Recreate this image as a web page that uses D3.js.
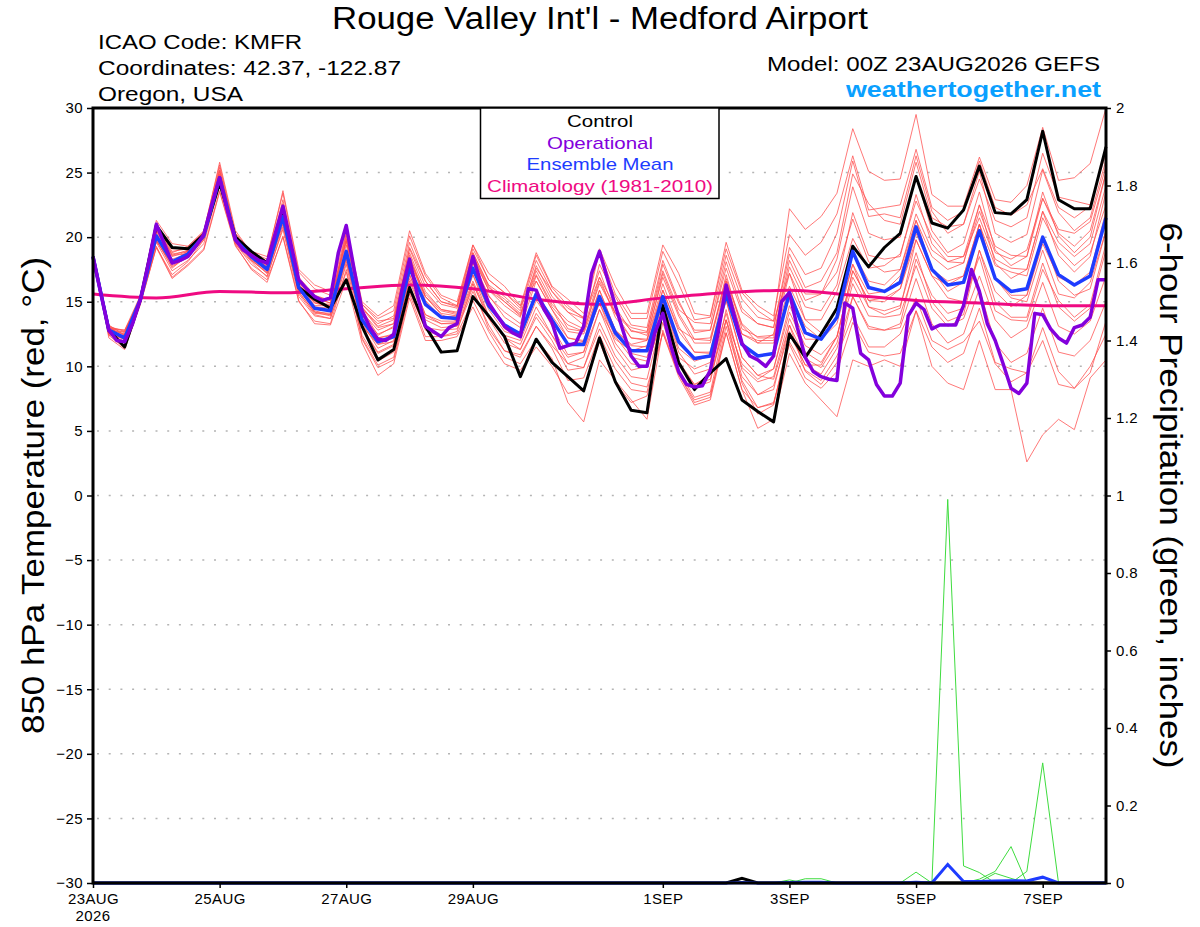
<!DOCTYPE html>
<html>
<head>
<meta charset="utf-8">
<script src="https://cdn.jsdelivr.net/npm/d3@7"></script>
<style>
  body { margin: 0; background: #fff; }
  text { font-family: "Liberation Sans", Arial, Helvetica, sans-serif; }
</style>
</head>
<body>
<div id="chart"></div>
<script>
// ---- data ----
// ensemble mean 850 hPa temperature, 6-hourly from 00Z 23AUG2026
const meanTemp = [18.5,12.8,12.2,15.2, 20.1,18.1,18.7,20.1, 24.6,19.8,18.5,17.5, 21.6,16.1,14.5,14.3,
  18.9,13.6,11.9,12.3, 17.6,14.8,13.8,13.7, 17.6,14.7,13.2,12.5, 15.6,13.6,11.7,11.7,
  15.4,12.6,11.2,11.2, 15.4,11.9,10.6,10.8, 15.6,11.7,10.8,11.0, 15.7,12.6,12.1,13.8,
  18.9,16.1,15.8,16.5, 20.8,17.5,16.3,16.5, 20.5,16.8,15.8,16.0, 20.0,17.1,16.3,17.0, 21.5];

const controlTemp = [18.5,12.8,11.5,15.2, 20.9,19.2,19.1,20.2, 24.2,20.0,18.9,18.0, 22.2,16.1,15.2,14.5,
  16.7,13.1,10.5,11.3, 16.1,13.1,11.1,11.2, 15.4,13.9,12.3,9.2, 12.1,10.3,9.2,8.1,
  12.2,8.8,6.6,6.4, 14.7,10.3,8.2,9.5, 10.6,7.4,6.5,5.7, 12.5,10.7,12.5,14.5,
  19.3,17.7,19.2,20.3, 24.7,21.1,20.7,22.1, 25.5,21.9,21.8,22.9, 28.2,22.9,22.2,22.2, 27.0];

// operational run, 3-hourly
const operTemp = [18.5,15.6,12.8,12.0,11.9,13.3,15.2,18.0,21.0,
  19.5,18.0,18.2,18.5,19.3,20.2,22.5,24.6,
  22.0,19.8,19.0,18.6,18.2,18.0,20.2,22.4,
  19.5,16.7,16.0,15.4,15.1,15.3,18.8,20.9,
  17.5,14.3,13.0,12.1,12.0,12.5,15.8,18.3,
  15.5,13.1,12.7,12.3,13.0,13.3,16.0,18.5,
  16.5,14.9,14.0,13.1,12.6,12.3,16.0,15.9,
  14.4,13.4,11.4,11.6,11.8,13.1,17.2,18.9,
  16.8,14.7,12.7,10.8,10.0,10.0,12.6,14.1,
  11.6,9.6,8.6,8.4,8.5,9.7,12.6,16.3,
  14.0,11.8,10.8,10.5,10.0,10.8,15.0,15.7,
  13.0,10.7,9.6,9.2,9.0,8.9,14.9,14.5,
  11.0,10.5,8.6,7.7,7.7,8.7,13.9,14.9,
  14.4,12.9,13.2,13.2,13.2,14.7,17.5,15.8,
  13.3,12.0,10.2,8.3,7.9,8.7,14.1,14.0,
  12.9,12.2,11.8,13.0,13.2,13.8,16.7,16.7];

// 1981-2010 climatology, daily at 00Z
const climoTemp = [15.6,15.3,15.8,15.7,16.0,16.3,16.0,15.2,14.8,15.3,15.7,15.9,15.5,15.1,14.9,14.7,14.7];

// ensemble members, 6-hourly
const memberTemps = [
  [18.5,13.1,12.7,15.4,21.3,19.5,19.3,20.5,25.6,20.3,18.9,18.5,23.4,17.3,16.0,15.5,20.4,14.8,13.7,14.3,20.1,17.0,15.3,14.7,19.1,16.7,15.7,14.5,18.6,16.1,14.7,13.7,18.9,15.6,13.7,13.7,18.9,16.4,13.6,13.8,19.1,15.7,14.3,13.5,22.2,20.6,21.6,23.4,28.4,25.1,24.4,24.5,29.5,23.3,22.4,22.4,26.2,22.9,22.7,24.0,28.5,24.4,24.6,25.7,30.0],
  [18.5,12.4,11.4,14.9,19.3,16.9,17.9,19.1,23.6,19.4,17.5,16.5,20.1,15.1,13.3,13.2,16.7,11.8,9.3,10.2,15.3,12.0,12.0,12.3,14.6,12.1,10.2,9.7,11.5,10.0,7.9,8.2,11.9,8.7,7.2,7.7,12.6,9.2,7.0,7.4,12.6,8.2,5.2,5.9,11.0,8.7,7.4,6.1,10.5,10.0,10.5,10.0,14.3,10.0,8.7,8.2,12.0,8.2,8.2,2.6,4.7,5.9,5.1,9.1,10.5],
  [18.5,13.0,12.8,15.5,20.7,19.1,19.1,20.4,25.8,20.5,18.8,18.3,23.6,17.5,16.3,15.8,20.8,15.0,13.9,14.7,20.5,17.2,15.5,15.0,19.4,17.2,16.2,14.7,18.8,16.2,15.2,14.1,19.1,16.2,14.1,14.1,19.4,17.2,14.1,13.9,19.6,15.9,14.7,13.9,20.2,18.6,19.6,21.8,26.3,22.1,22.3,22.5,26.8,22.3,21.3,22.0,25.9,22.3,21.7,22.5,25.3,22.3,21.5,22.4,26.8],
  [18.5,12.2,11.3,14.8,19.2,16.8,17.8,19.0,23.5,19.3,17.6,16.7,20.0,15.0,13.5,13.3,17.5,12.1,9.9,10.5,15.6,12.3,12.3,12.5,15.1,12.7,10.7,10.2,12.1,10.6,7.2,5.7,10.5,8.9,7.4,5.9,12.8,9.4,7.2,7.6,13.1,8.9,6.8,7.1,11.9,9.7,8.9,10.8,13.9,11.5,11.5,12.5,15.3,12.0,11.3,11.9,13.5,10.2,8.8,9.5,12.0,8.6,8.3,10.0,12.5],
  [18.5,12.9,12.5,15.3,20.5,18.7,18.9,20.2,25.1,20.0,18.6,17.9,22.5,16.7,15.3,14.9,19.7,14.2,12.8,13.3,18.8,15.8,14.4,14.2,18.4,15.9,15.0,13.9,17.8,15.4,14.2,13.2,17.9,15.4,13.2,13.0,18.2,15.1,12.6,12.8,18.1,14.5,13.3,13.0,19.2,17.1,17.6,20.3,25.9,21.6,21.8,21.5,26.3,22.0,20.3,21.0,25.1,20.3,19.6,20.2,25.2,21.9,20.5,21.5,26.0],
  [18.5,12.6,11.8,15.0,19.6,17.4,18.2,19.5,24.0,19.5,17.9,17.0,20.6,15.4,13.9,13.7,17.9,12.4,10.4,11.1,16.2,13.0,12.8,12.9,15.8,13.2,11.2,10.7,13.1,11.4,8.9,9.1,12.4,9.8,8.2,8.0,13.4,9.6,7.6,8.0,13.6,8.7,6.3,7.0,12.5,10.1,9.4,11.4,15.4,12.9,12.8,13.0,16.8,13.3,11.8,12.5,16.0,11.8,10.3,11.0,14.5,11.1,10.8,12.0,15.0],
  [18.5,13.2,12.4,15.3,20.9,19.1,19.2,20.3,25.4,20.2,18.7,18.1,22.9,16.9,15.5,15.1,20.1,14.5,13.3,13.9,19.6,16.6,15.0,14.6,18.8,16.3,15.4,14.3,18.2,15.8,14.5,13.8,17.4,14.1,12.8,12.4,16.9,13.9,11.8,11.8,17.1,12.9,12.3,12.4,17.7,15.1,15.6,18.3,23.9,20.3,19.8,20.0,24.8,20.5,18.8,19.5,23.5,19.0,17.8,18.5,23.5,20.1,18.8,20.0,25.0],
  [18.5,12.5,12.1,15.1,19.8,17.7,18.5,19.8,24.2,19.6,18.2,17.2,21.0,15.7,14.2,13.9,18.4,13.0,11.1,11.7,16.8,13.8,13.3,13.3,16.4,13.7,11.8,11.3,13.8,12.0,9.7,9.9,13.4,10.8,9.2,9.0,13.9,10.3,8.4,8.8,14.4,9.7,7.8,8.2,13.2,10.6,9.9,11.8,16.4,13.9,13.8,14.0,17.8,14.5,13.1,13.7,17.0,13.6,12.2,13.0,16.5,13.1,12.5,13.5,17.0],
  [18.5,13.0,12.6,15.4,20.4,18.6,19.0,20.3,24.9,19.9,18.7,17.7,22.2,16.5,15.0,14.7,19.4,13.9,12.5,13.0,18.4,15.4,14.1,13.9,18.0,15.4,14.2,13.3,17.0,14.6,13.2,12.7,16.6,14.1,12.2,12.1,17.2,14.1,12.1,12.2,16.8,13.3,12.2,12.2,17.2,14.6,14.3,16.3,21.9,18.6,18.3,18.5,23.3,19.5,18.1,18.5,22.5,18.0,16.8,17.5,22.0,18.6,17.3,18.5,23.5],
  [18.5,12.7,12.3,15.2,19.9,18.1,18.8,20.0,24.4,19.8,18.7,17.8,21.3,16.3,14.9,14.6,18.3,13.2,11.7,11.9,16.6,13.6,13.0,13.1,16.1,12.9,11.2,10.9,13.1,11.6,10.2,10.7,14.4,12.1,11.2,11.6,15.9,12.9,12.1,12.0,16.6,13.2,11.8,11.8,15.7,13.1,12.1,13.3,17.9,15.6,15.8,17.0,21.3,17.5,15.8,16.5,21.0,17.8,17.3,17.0,21.5,19.1,17.8,18.8,22.5],
  [18.5,13.1,12.0,15.3,20.6,18.3,18.7,20.2,24.8,20.1,18.4,17.7,22.4,16.4,14.7,14.7,19.9,14.4,12.4,13.1,18.4,15.1,13.8,13.9,18.1,14.9,12.9,12.3,15.4,13.1,10.9,11.1,14.4,11.4,9.7,10.0,13.9,10.1,8.6,9.3,13.6,10.2,9.0,9.8,14.7,12.1,12.1,13.8,18.9,16.6,16.3,17.5,21.8,19.0,18.1,18.0,22.5,19.3,18.6,18.5,23.0,20.3,19.3,20.5,25.0],
  [18.5,12.5,12.5,15.1,19.7,17.9,18.9,20.1,24.3,19.7,18.6,17.5,21.1,16.2,14.3,14.0,18.6,13.6,12.2,12.4,18.0,15.4,14.3,14.0,18.6,15.9,14.7,13.8,17.4,15.1,12.9,12.7,16.4,14.1,13.0,12.7,17.4,14.4,13.4,13.3,18.6,15.2,13.8,13.5,17.2,13.6,12.6,13.8,17.9,14.6,14.3,14.7,18.8,15.0,13.5,14.0,19.0,15.8,14.6,15.5,20.0,16.6,15.5,16.0,20.5],
  [18.5,13.0,11.8,15.4,20.2,17.8,18.4,19.9,24.5,20.0,18.3,17.2,21.4,15.8,14.1,14.0,18.1,13.0,11.0,11.6,17.1,14.0,13.5,13.5,16.6,13.9,12.2,11.3,14.1,12.4,10.2,9.9,12.9,10.4,8.7,8.4,12.6,9.4,7.4,7.8,12.6,8.2,6.8,7.2,11.7,9.1,8.3,9.6,13.4,11.1,10.8,11.0,14.3,11.5,10.3,11.0,14.5,10.3,9.8,9.5,13.0,9.6,8.3,9.5,13.5],
  [18.5,12.6,12.7,15.2,20.7,18.9,19.1,20.4,25.1,20.1,18.9,18.1,22.6,16.7,15.4,15.1,19.8,14.6,13.1,13.6,19.1,16.2,14.8,14.5,18.6,16.1,15.2,14.1,17.1,14.8,13.5,12.9,16.9,14.6,12.7,12.6,17.9,14.9,12.8,12.8,17.6,14.2,13.3,13.0,18.7,16.1,16.6,18.8,24.9,22.6,21.3,21.0,25.8,21.5,20.8,21.0,24.5,21.3,20.8,21.5,26.5,23.1,22.8,22.5,26.5],
  [18.5,13.2,12.0,15.3,20.3,18.5,18.9,20.1,24.6,19.6,18.8,17.6,21.8,16.0,14.2,14.1,18.5,13.4,11.4,12.0,17.6,15.0,13.7,13.7,18.1,15.5,13.8,13.0,16.6,14.4,12.2,11.9,14.9,12.3,10.7,10.4,14.4,10.7,9.8,10.3,15.1,10.7,9.3,9.8,14.2,11.6,10.9,12.3,16.9,14.6,14.0,14.5,19.8,17.0,15.3,15.0,18.5,14.3,13.6,13.5,17.5,15.1,13.8,14.8,19.5],
  [18.5,12.4,12.2,15.4,19.8,17.6,18.6,20.3,24.7,19.7,18.3,17.4,21.7,15.9,14.6,14.5,18.9,13.5,12.2,12.5,17.1,14.0,13.3,13.4,17.1,14.4,12.7,12.3,15.6,13.9,12.2,12.0,15.9,12.8,11.0,10.7,14.9,11.1,9.4,9.8,14.1,9.9,8.8,9.2,13.7,11.1,10.3,12.3,17.4,15.1,15.0,16.0,20.3,17.5,16.6,17.0,21.0,16.8,15.5,15.5,19.5,16.9,16.3,17.3,22.0],
  [18.5,12.9,12.8,15.0,19.7,17.9,19.0,20.2,24.8,19.9,18.8,17.9,22.0,16.6,15.1,14.6,18.6,13.1,11.7,12.2,18.2,15.6,14.4,14.1,18.8,16.2,15.0,14.0,17.6,15.8,14.2,13.7,16.9,13.8,12.2,12.0,15.9,12.7,11.1,11.1,16.6,12.5,12.0,12.0,16.2,13.6,13.6,15.8,19.9,17.6,17.8,18.7,22.8,20.0,18.5,18.5,21.5,18.3,17.6,17.5,22.0,19.6,18.5,19.5,24.0],
  [18.5,12.7,11.6,15.5,20.9,18.6,18.7,19.9,24.4,19.8,18.2,17.3,22.1,16.3,14.9,14.8,20.3,14.8,13.5,13.7,18.6,15.4,14.0,13.5,17.1,13.9,12.2,11.7,14.6,12.4,10.7,11.1,15.4,12.8,11.7,12.0,16.4,13.1,11.1,11.0,15.1,10.7,9.3,9.0,13.2,9.6,8.6,10.3,15.4,13.1,12.8,13.3,18.3,15.5,14.1,14.5,19.0,15.0,13.8,13.8,18.0,14.6,13.5,14.5,19.0],
  [18.5,13.0,12.4,14.9,19.2,17.1,18.1,19.8,24.1,19.5,18.1,16.9,20.8,15.6,14.0,13.7,17.3,12.2,10.1,10.7,15.8,12.8,12.3,12.7,16.4,13.7,12.4,12.0,15.1,13.4,11.7,11.9,14.9,11.8,10.2,10.0,13.9,10.4,8.6,9.0,13.6,9.2,7.8,8.5,12.7,10.1,10.1,12.3,17.4,15.1,15.3,16.0,19.8,17.0,16.3,17.0,21.0,16.8,15.3,15.0,19.0,15.6,15.3,16.5,20.5],
  [18.5,12.6,12.1,15.4,20.6,18.8,19.3,20.4,25.2,20.2,18.6,17.7,22.2,16.8,15.3,14.9,19.7,14.5,13.0,13.3,19.2,16.6,15.0,14.7,19.4,16.7,15.7,14.7,16.6,14.4,12.7,12.5,15.9,12.8,11.6,11.5,15.1,11.4,10.4,10.8,16.1,12.5,11.8,12.5,18.2,15.6,15.6,17.3,21.4,18.1,17.3,17.5,21.3,18.5,17.5,18.0,22.0,18.8,18.3,19.0,23.0,20.6,20.3,21.2,25.5]
];

// 6-hour precipitation (inches)
const meanPrecip = [0,0,0,0,0,0,0,0, 0,0,0,0,0,0,0,0, 0,0,0,0,0,0,0,0, 0,0,0,0,0,0,0,0, 0,0,0,0,0,0,0,0,
  0,0.001,0,0,0.001,0.002,0.002,0, 0,0,0,0,0.002,0,0.048,0.004, 0.004,0.005,0.006,0.005,0.015,0,0,0, 0];
const controlPrecip = [0,0,0,0,0,0,0,0, 0,0,0,0,0,0,0,0, 0,0,0,0,0,0,0,0, 0,0,0,0,0,0,0,0, 0,0,0,0,0,0,0,0,
  0,0.012,0,0,0,0,0,0, 0,0,0,0,0,0,0,0, 0,0,0,0,0,0,0,0, 0];
// members with measurable precipitation (the rest stay at zero)
const memberPrecip = [
  [0,0,0,0,0,0,0,0, 0,0,0,0,0,0,0,0, 0,0,0,0,0,0,0,0, 0,0,0,0,0,0,0,0, 0,0,0,0,0,0,0,0, 0,0,0,0,0,0,0,0, 0,0,0,0,0,0,0.99,0.044, 0.027,0,0,0,0,0,0,0, 0],
  [0,0,0,0,0,0,0,0, 0,0,0,0,0,0,0,0, 0,0,0,0,0,0,0,0, 0,0,0,0,0,0,0,0, 0,0,0,0,0,0,0,0, 0,0,0,0,0,0,0,0, 0,0,0,0,0.028,0,0,0, 0,0,0,0,0,0,0,0, 0],
  [0,0,0,0,0,0,0,0, 0,0,0,0,0,0,0,0, 0,0,0,0,0,0,0,0, 0,0,0,0,0,0,0,0, 0,0,0,0,0,0,0,0, 0,0,0,0,0,0,0,0, 0,0,0,0,0,0,0,0, 0.01,0.03,0.094,0,0,0,0,0, 0],
  [0,0,0,0,0,0,0,0, 0,0,0,0,0,0,0,0, 0,0,0,0,0,0,0,0, 0,0,0,0,0,0,0,0, 0,0,0,0,0,0,0,0, 0,0,0,0,0,0,0,0, 0,0,0,0,0,0,0,0, 0,0,0,0.03,0.31,0,0,0, 0],
  [0,0,0,0,0,0,0,0, 0,0,0,0,0,0,0,0, 0,0,0,0,0,0,0,0, 0,0,0,0,0,0,0,0, 0,0,0,0,0,0,0,0, 0,0,0,0,0.008,0,0,0, 0,0,0,0,0,0,0,0, 0,0,0,0,0,0,0,0, 0],
  [0,0,0,0,0,0,0,0, 0,0,0,0,0,0,0,0, 0,0,0,0,0,0,0,0, 0,0,0,0,0,0,0,0, 0,0,0,0,0,0,0,0, 0,0,0,0,0,0.011,0.011,0, 0,0,0,0,0,0,0,0, 0,0,0,0,0,0,0,0, 0],
  [0,0,0,0,0,0,0,0, 0,0,0,0,0,0,0,0, 0,0,0,0,0,0,0,0, 0,0,0,0,0,0,0,0, 0,0,0,0,0,0,0,0, 0,0,0,0,0,0,0,0, 0,0,0,0,0,0,0,0, 0.003,0.025,0.012,0,0,0,0,0, 0]
];

// axis ticks
const tempTicks = [30,25,20,15,10,5,0,-5,-10,-15,-20,-25,-30];
const precipTicks = [2,1.8,1.6,1.4,1.2,1,0.8,0.6,0.4,0.2,0];
const precipTickLabels = ["2","1.8","1.6","1.4","1.2","1","0.8","0.6","0.4","0.2","0"];
const dateTicks = ["2026-08-23","2026-08-25","2026-08-27","2026-08-29","2026-09-01","2026-09-03","2026-09-05","2026-09-07"];
const dateTickLabels = ["23AUG","25AUG","27AUG","29AUG","1SEP","3SEP","5SEP","7SEP"];

// ---- layout ----
const W = 1200, H = 927;
const plot = { left: 93, right: 1106, top: 108, bottom: 883 };

const svg = d3.select("#chart").append("svg")
  .attr("width", W)
  .attr("height", H);

const start = Date.UTC(2026, 7, 23, 0);
const hour = 3600 * 1000;
const times6 = meanTemp.map((d, i) => new Date(start + i * 6 * hour));
const times3 = operTemp.map((d, i) => new Date(start + i * 3 * hour));
const timesDaily = climoTemp.map((d, i) => new Date(start + i * 24 * hour));

const x = d3.scaleUtc()
  .domain([times6[0], times6[times6.length - 1]])
  .range([plot.left, plot.right]);

const y = d3.scaleLinear().domain([-30, 30]).range([plot.bottom, plot.top]);
const yP = d3.scaleLinear().domain([0, 2]).range([plot.bottom, plot.top]);

// gridlines
svg.append("g")
  .selectAll("line")
  .data(tempTicks.filter(d => d > -30 && d < 30))
  .enter()
  .append("line")
  .attr("x1", plot.left + 4)
  .attr("x2", plot.right)
  .attr("y1", d => y(d))
  .attr("y2", d => y(d))
  .attr("stroke", "#b4b4b4")
  .attr("stroke-width", 1.5)
  .attr("stroke-dasharray", "2,9.7");

const line6 = d3.line().x((d, i) => x(times6[i])).y(d => y(d));
const line3 = d3.line().x((d, i) => x(times3[i])).y(d => y(d));
const lineP = d3.line().x((d, i) => x(times6[i])).y(d => yP(d));

// ensemble members
svg.append("g")
  .selectAll("path")
  .data(memberTemps)
  .enter()
  .append("path")
  .attr("d", line6)
  .attr("fill", "none")
  .attr("stroke", "#ff4d4d")
  .attr("stroke-opacity", 0.85)
  .attr("stroke-width", 0.9);

// member precipitation
svg.append("g")
  .selectAll("path")
  .data(memberPrecip)
  .enter()
  .append("path")
  .attr("d", lineP)
  .attr("fill", "none")
  .attr("stroke", "#3fdc3f")
  .attr("stroke-width", 1);

// climatology
svg.append("path")
  .datum(climoTemp)
  .attr("d", d3.line().curve(d3.curveMonotoneX).x((d, i) => x(timesDaily[i])).y(d => y(d)))
  .attr("fill", "none")
  .attr("stroke", "#ef0a82")
  .attr("stroke-width", 3);

// control, mean, operational
svg.append("path").datum(controlTemp).attr("d", line6)
  .attr("fill", "none").attr("stroke", "#000").attr("stroke-width", 3)
  .attr("stroke-linejoin", "round");
svg.append("path").datum(meanTemp).attr("d", line6)
  .attr("fill", "none").attr("stroke", "#1e3cff").attr("stroke-width", 3.5)
  .attr("stroke-linejoin", "round");
svg.append("path").datum(operTemp).attr("d", line3)
  .attr("fill", "none").attr("stroke", "#8300dc").attr("stroke-width", 3.5)
  .attr("stroke-linejoin", "round");

// control / mean precip
svg.append("path").datum(controlPrecip).attr("d", lineP)
  .attr("fill", "none").attr("stroke", "#000").attr("stroke-width", 3);
svg.append("path").datum(meanPrecip).attr("d", lineP)
  .attr("fill", "none").attr("stroke", "#1e3cff").attr("stroke-width", 3);

// frame
svg.append("rect")
  .attr("x", plot.left)
  .attr("y", plot.top)
  .attr("width", plot.right - plot.left)
  .attr("height", plot.bottom - plot.top)
  .attr("fill", "none")
  .attr("stroke", "#000")
  .attr("stroke-width", 3);

// axes
const yAxis = svg.append("g")
  .attr("transform", `translate(${plot.left},0)`)
  .call(d3.axisLeft(y).tickValues(tempTicks).tickSize(6).tickPadding(4));
const yAxisR = svg.append("g")
  .attr("transform", `translate(${plot.right},0)`)
  .call(d3.axisRight(yP).tickValues(precipTicks).tickSize(5).tickPadding(5)
    .tickFormat((d, i) => precipTickLabels[i]));
const xAxis = svg.append("g")
  .attr("transform", `translate(0,${plot.bottom})`)
  .call(d3.axisBottom(x)
    .tickValues(dateTicks.map(d => new Date(d + "T00:00:00Z")))
    .tickSize(5).tickPadding(5)
    .tickFormat((d, i) => dateTickLabels[i]));

[yAxis, yAxisR, xAxis].forEach(g => {
  g.select(".domain").remove();
  g.selectAll(".tick line").attr("stroke", "#000").attr("stroke-width", 1.5);
  g.selectAll(".tick text")
    .attr("fill", "#000")
    .style("font-size", "15px")
    .style("letter-spacing", "0.4px")
    .style("font-family", "'Liberation Sans', Arial, sans-serif");
});

svg.append("text")
  .attr("x", x(new Date(dateTicks[0] + "T00:00:00Z")))
  .attr("y", 921)
  .attr("text-anchor", "middle")
  .style("font-size", "15px")
  .style("letter-spacing", "0.4px")
  .text("2026");

// axis titles
svg.append("text")
  .attr("transform", `translate(44,${(plot.top + plot.bottom) / 2}) rotate(-90)`)
  .attr("text-anchor", "middle")
  .attr("textLength", 477)
  .attr("lengthAdjust", "spacingAndGlyphs")
  .style("font-size", "32px")
  .text("850 hPa Temperature (red, \u00B0C)");

svg.append("text")
  .attr("transform", `translate(1160,${(plot.top + plot.bottom) / 2}) rotate(90)`)
  .attr("text-anchor", "middle")
  .attr("textLength", 546)
  .attr("lengthAdjust", "spacingAndGlyphs")
  .style("font-size", "32px")
  .text("6-hour Precipitation (green, inches)");

// legend
const legend = [
  { label: "Control", color: "#000", len: 66 },
  { label: "Operational", color: "#8300dc", len: 106 },
  { label: "Ensemble Mean", color: "#1e3cff", len: 147 },
  { label: "Climatology (1981-2010)", color: "#ef0a82", len: 226 }
];
svg.append("rect")
  .attr("x", 480.5).attr("y", plot.top)
  .attr("width", 238.5).attr("height", 90.5)
  .attr("fill", "#fff").attr("stroke", "#000").attr("stroke-width", 1.5);
svg.append("g")
  .selectAll("text")
  .data(legend)
  .enter()
  .append("text")
  .attr("x", 600)
  .attr("y", (d, i) => 127 + i * 21.7)
  .attr("text-anchor", "middle")
  .attr("fill", d => d.color)
  .attr("textLength", d => d.len)
  .attr("lengthAdjust", "spacingAndGlyphs")
  .style("font-size", "17px")
  .text(d => d.label);

// header
svg.append("text")
  .attr("x", 600).attr("y", 29)
  .attr("text-anchor", "middle")
  .attr("textLength", 536)
  .attr("lengthAdjust", "spacingAndGlyphs")
  .style("font-size", "31px")
  .text("Rouge Valley Int'l - Medford Airport");

const info = [
  { t: "ICAO Code: KMFR", y: 49, len: 204 },
  { t: "Coordinates: 42.37, -122.87", y: 75, len: 303 },
  { t: "Oregon, USA", y: 101, len: 145 }
];
svg.append("g")
  .selectAll("text")
  .data(info)
  .enter()
  .append("text")
  .attr("x", 98)
  .attr("y", d => d.y)
  .attr("textLength", d => d.len)
  .attr("lengthAdjust", "spacingAndGlyphs")
  .style("font-size", "20px")
  .text(d => d.t);

svg.append("text")
  .attr("x", 1100).attr("y", 71)
  .attr("text-anchor", "end")
  .attr("textLength", 333)
  .attr("lengthAdjust", "spacingAndGlyphs")
  .style("font-size", "20px")
  .text("Model: 00Z 23AUG2026 GEFS");

svg.append("text")
  .attr("x", 1101).attr("y", 97)
  .attr("text-anchor", "end")
  .attr("textLength", 255)
  .attr("lengthAdjust", "spacingAndGlyphs")
  .attr("fill", "#0aa0ff")
  .style("font-size", "22px")
  .style("font-weight", "bold")
  .text("weathertogether.net");
</script>
</body>
</html>
